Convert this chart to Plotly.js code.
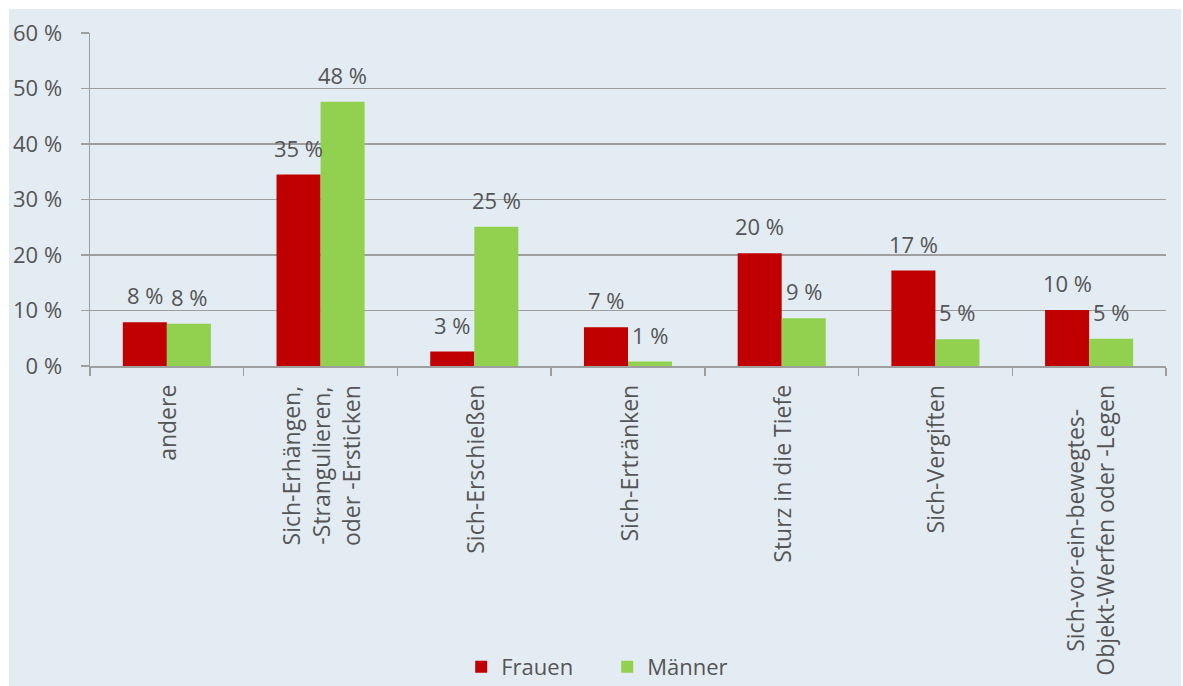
<!DOCTYPE html>
<html><head><meta charset="utf-8">
<script src="https://cdn.plot.ly/plotly-3.0.1.min.js"></script>
<style>
html,body{margin:0;padding:0;background:#fff;width:1183px;height:686px;overflow:hidden}
#chart{position:absolute;left:9px;top:9px;width:1172px;height:677px}
</style></head>
<body><div id="chart"></div>
<script>
const categories = ["andere","Sich-Erhängen","Sich-Erschießen","Sich-Ertränken","Sturz in die Tiefe","Sich-Vergiften","Sich-vor-ein-bewegtes-Objekt-Werfen"];
const categoryLabels = ["andere","Sich-Erhängen,<br>-Strangulieren,<br>oder -Ersticken","Sich-Erschießen","Sich-Ertränken","Sturz in die Tiefe","Sich-Vergiften","Sich-vor-ein-bewegtes-<br>Objekt-Werfen oder -Legen"];
const frauen = [7.9, 34.5, 2.6, 7.0, 20.3, 17.2, 10.1];
const maenner = [7.6, 47.6, 25.1, 0.8, 8.6, 4.8, 4.9];
const yTicks = [0, 10, 20, 30, 40, 50, 60];

const FONT = "Open Sans, sans-serif";
const TXT = "#555555";
const GRID = "#9e9e9e";
const RED = "#c00000";
const GREEN = "#92d050";

const traces = [
  {type:"bar", name:"Frauen", x:categories, y:frauen, marker:{color:RED}, hoverinfo:"none"},
  {type:"bar", name:"Männer", x:categories, y:maenner, marker:{color:GREEN}, hoverinfo:"none"}
];

const annotations = [];
categories.forEach((c,i)=>{
  annotations.push({x:c, y:frauen[i], xref:"x", yref:"y", text:Math.round(frauen[i])+" %", showarrow:false,
    xshift:-22, yshift:27, yanchor:"middle", font:{family:FONT,size:22,color:TXT}});
  annotations.push({x:c, y:maenner[i], xref:"x", yref:"y", text:Math.round(maenner[i])+" %", showarrow:false,
    xshift:22, yshift:27, yanchor:"middle", font:{family:FONT,size:22,color:TXT}});
  annotations.push({x:c, y:0, xref:"x", yref:"y", text:categoryLabels[i], showarrow:false, textangle:-90,
    align:"center", yanchor:"top", yshift:-17, font:{family:FONT,size:23,color:TXT}});
});

const layout = {
  width:1172, height:677,
  paper_bgcolor:"#e4ecf3", plot_bgcolor:"#e4ecf3",
  margin:{l:81, r:15, t:24, b:320, pad:0, autoexpand:false},
  barmode:"group", bargap:0.427, bargroupgap:0,
  font:{family:FONT, size:22, color:TXT},
  showlegend:true,
  legend:{orientation:"h", x:0.345, xanchor:"left", y:-0.904, yanchor:"middle",
    entrywidth:101, entrywidthmode:"pixels",
    bgcolor:"rgba(0,0,0,0)", font:{family:FONT,size:22,color:TXT}},
  xaxis:{type:"category", showticklabels:false, ticks:"outside", tickson:"boundaries", ticklen:8,
    tickcolor:GRID, tickwidth:1.5, showline:true, linecolor:GRID, linewidth:1.5, showgrid:false, zeroline:false,
    fixedrange:true},
  yaxis:{range:[0,60], tickvals:yTicks, ticktext:yTicks.map(v=>v+" %"), ticks:"outside", ticklen:8,
    tickcolor:GRID, tickwidth:1.5, showline:true, linecolor:GRID, linewidth:1.5, showgrid:true, gridcolor:GRID,
    gridwidth:1.5, zeroline:false, ticklabelstandoff:14, tickfont:{family:FONT,size:22,color:TXT}, fixedrange:true},
  annotations:annotations
};
Plotly.newPlot("chart", traces, layout, {displayModeBar:false, staticPlot:true});
</script></body></html>
